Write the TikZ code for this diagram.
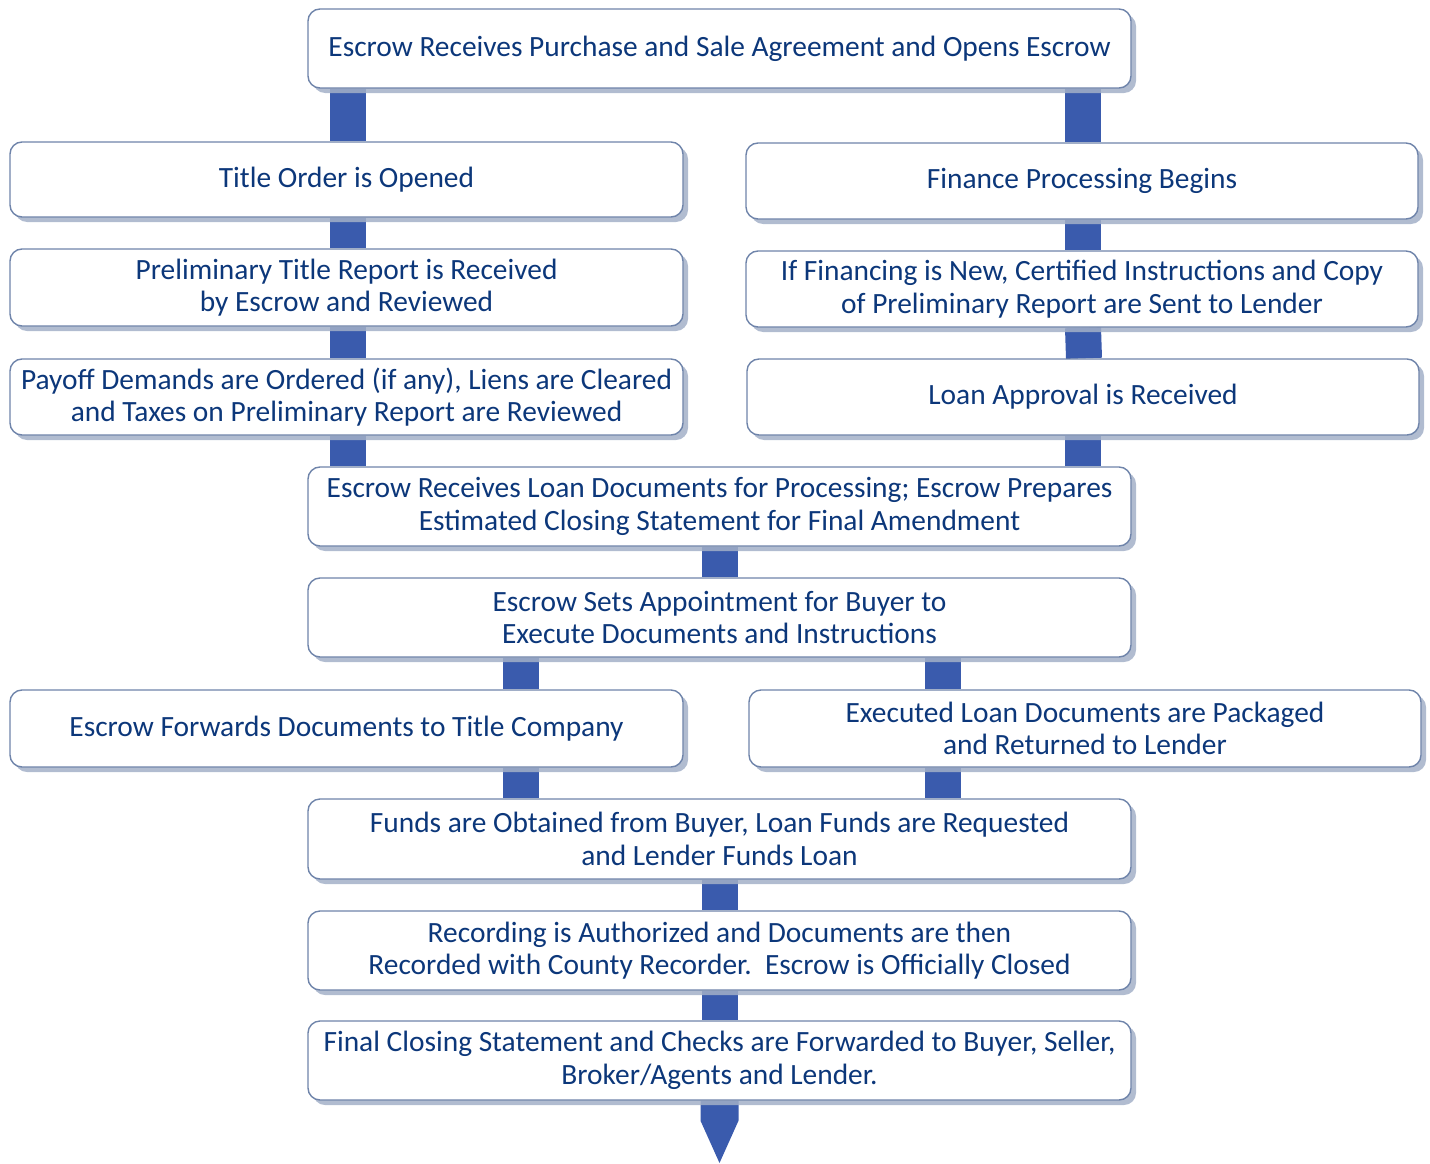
\documentclass[tikz,border=0pt]{standalone}
\usepackage{fontspec}
\setmainfont{Carlito}
\usetikzlibrary{shadows,backgrounds}
\definecolor{txt}{HTML}{0C377A}
\definecolor{conncol}{HTML}{3A5BAD}
\definecolor{bordercol}{HTML}{6F84AA}
\definecolor{shadowcol}{HTML}{A3B0C8}
\tikzset{
  box/.style={draw=bordercol, line width=1.4pt, fill=white, rounded corners=12pt,
    inner sep=0pt, align=center, text=txt,
    font=\fontsize{29.4}{32.5}\selectfont,
    drop shadow={shadow xshift=5pt, shadow yshift=-5pt, fill=shadowcol, opacity=0.85}},
  sidebox/.style={box, minimum width=673pt, minimum height=76pt},
  midbox/.style={box, minimum width=823pt, minimum height=79pt},
  conn/.style={draw=conncol, line width=36pt, line cap=butt},
}
\begin{document}
\begin{tikzpicture}[x=1pt,y=1pt]
\useasboundingbox (0,0) rectangle (1430,-1164);
\node[midbox] (top) at (719.5,-48.5) {Escrow Receives Purchase and Sale Agreement and Opens Escrow};
\node[sidebox, minimum height=75pt] (title) at (346.5,-179.5) {Title Order is Opened};
\node[sidebox, minimum width=672pt] (finance) at (1082,-181) {Finance Processing Begins};
\node[sidebox, minimum height=77pt] (prelim) at (346.5,-287.5) {Preliminary Title Report is Received\\by Escrow and Reviewed};
\node[sidebox, minimum width=672pt] (iffin) at (1082,-289) {If Financing is New, Certified Instructions and Copy\\of Preliminary Report are Sent to Lender};
\node[sidebox] (payoff) at (346.5,-397) {Payoff Demands are Ordered (if any), Liens are Cleared\\and Taxes on Preliminary Report are Reviewed};
\node[sidebox, minimum width=672pt] (loanapp) at (1083,-397) {Loan Approval is Received};
\node[midbox] (loandocs) at (719.5,-506.5) {Escrow Receives Loan Documents for Processing; Escrow Prepares\\Estimated Closing Statement for Final Amendment};
\node[midbox] (appt) at (719.5,-617.5) {Escrow Sets Appointment for Buyer to\\Execute Documents and Instructions};
\node[sidebox, minimum height=77pt] (forwards) at (346.5,-728.5) {Escrow Forwards Documents to Title Company};
\node[sidebox, minimum width=672pt, minimum height=77pt] (executed) at (1085,-728.5) {Executed Loan Documents are Packaged\\and Returned to Lender};
\node[midbox, minimum height=80pt] (funds) at (719.5,-839) {Funds are Obtained from Buyer, Loan Funds are Requested\\and Lender Funds Loan};
\node[midbox] (recording) at (719.5,-950.5) {Recording is Authorized and Documents are then\\Recorded with County Recorder.\ \ Escrow is Officially Closed};
\node[midbox] (final) at (719.5,-1060.5) {Final Closing Statement and Checks are Forwarded to Buyer, Seller,\\Broker/Agents and Lender.};
\coordinate (tip) at (719.5,-1163);
\begin{scope}[on background layer]
\draw[conn] ([xshift=1.5pt]title.north |- top.south) -- ([xshift=1.5pt]title.north);
\draw[conn] ([xshift=1pt]finance.north |- top.south) -- ([xshift=1pt]finance.north);
\draw[conn] ([xshift=1.5pt]title.south) -- ([xshift=1.5pt]prelim.north);
\draw[conn] ([xshift=1pt]finance.south) -- ([xshift=1pt]iffin.north);
\draw[conn] ([xshift=1.5pt]prelim.south) -- ([xshift=1.5pt]payoff.north);
\draw[conn] ([xshift=1pt]iffin.south) -- ([xshift=1pt]loanapp.north);
\draw[conn] ([xshift=1.5pt]payoff.south) -- ([xshift=1.5pt]payoff.south |- loandocs.north);
\draw[conn] (loanapp.south) -- (loanapp.south |- loandocs.north);
\draw[conn] (loandocs.south) -- (appt.north);
\draw[conn] ([xshift=-199pt]appt.south) -- ([xshift=-199pt]appt.south |- forwards.north);
\draw[conn] ([xshift=223.5pt]appt.south) -- ([xshift=223.5pt]appt.south |- executed.north);
\draw[conn] ([xshift=-199pt]funds.north |- forwards.south) -- ([xshift=-199pt]funds.north);
\draw[conn] ([xshift=223.5pt]funds.north |- executed.south) -- ([xshift=223.5pt]funds.north);
\draw[conn] (funds.south) -- (recording.north);
\draw[conn] (recording.south) -- (final.north);
\fill[conncol] ([xshift=-19pt]final.south) -- ++(0,-20) -- (tip) -- ([xshift=19pt,yshift=-20pt]final.south) -- ([xshift=19pt]final.south) -- cycle;
\end{scope}
\end{tikzpicture}
\end{document}
